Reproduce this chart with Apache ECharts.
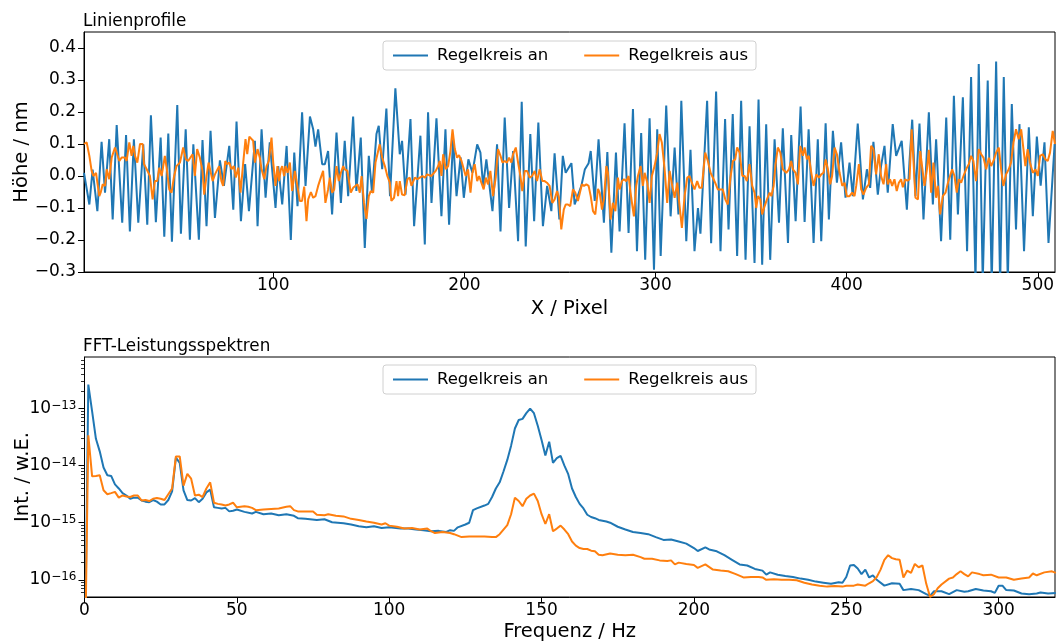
<!DOCTYPE html>
<html><head><meta charset="utf-8">
<script src="https://cdn.jsdelivr.net/npm/echarts@6/dist/echarts.min.js"></script>
<style>html,body{margin:0;padding:0;background:#fff}#c{width:1056px;height:642px}</style>
</head><body><div id="c"></div>
<script>
// ---- Linienprofile ----
const profileOnX = [1,3.8,5.5,8,10.2,12,14.2,16,18.1,21,23,25,27.1,29.4,32,34.1,36,38.6,41.1,43,45.1,47,49.8,51.7,54.2,56.4,58.2,61.1,63,65.1,67.2,69.5,72.1,74.2,77,79.1,80.8,83.1,85.3,87.3,90.4,91.8,93.9,96,98.2,101.2,102.6,104.7,107,109.2,111,112.7,115.1,116.9,119.2,120.9,122.1,123.5,125.6,127,128.7,130.8,133.1,135.4,137.4,139.2,141.8,143.5,145.8,147.9,150,151.7,154,155.2,157,159.2,161.1,163.9,166.2,167.4,169.2,171.8,173.7,177,179.3,181,182.8,185.4,188,190.1,192,194.1,195.9,198,199.7,202.1,204.2,206.7,208.4,209.8,211.5,214.7,217.1,218.9,221.1,223.4,225.5,228.1,230,232.1,234.5,236.5,238.7,241.1,243.3,245.5,247.2,249.7,251.5,253,256,257.7,261.2,263,265,266.1,268.2,270.2,273,274.8,276.9,279.3,281.2,283.8,285.9,288.2,290.3,292.5,294.6,296.9,299.2,300.9,302.7,305.6,307.9,310,312,313.5,316.1,318.3,320.4,322.2,323.5,327,329.1,331.7,334,336.4,338.2,340.4,342.7,344.8,347.1,349.2,351.8,353.9,355.8,357.9,360,362.3,364.6,366.6,369.3,371,373.3,375.9,378,380.1,382.7,384.9,386.7,389,390.7,392.8,394.9,397.1,399.4,401.5,403.2,405.8,408.5,410.6,412.3,414,416.3,418,419.8,421.5,424.1,425.9,428.8,431.5,432.9,434.3,436,438.1,440.2,443,445.1,446.8,449.4,452.1,454.2,456.1,458.2,460.8,463,465.1,467.4,469.1,471.2,473.8,475.9,478.2,480.3,482.2,484.3,486.4,488.6,490.4,492.8,495.3,497.4,499.5,501.5,503.5,505.6,508.8];
const profileOnY = [0.01,-0.089,0.02,-0.11,0.107,-0.052,0.115,-0.136,0.159,-0.146,0.128,-0.173,0.115,-0.146,0.099,-0.152,0.19,-0.144,0.12,-0.19,0.133,-0.205,0.222,-0.18,0.146,-0.199,0.099,-0.199,0.112,-0.157,0.141,-0.131,0.049,-0.031,0.094,-0.105,0.17,-0.141,0.037,-0.11,0.11,-0.157,0.146,-0.068,0.105,-0.1,0.031,-0.089,0.094,-0.2,0.073,-0.094,0.199,-0.031,0.186,0.146,0.092,0.146,0.037,0.037,0.078,-0.12,0.136,-0.084,0.11,-0.063,0.186,-0.047,0.12,-0.225,0.063,-0.052,0.131,0.157,0.021,0.211,-0.063,0.274,0.068,0.11,-0.058,0.178,-0.157,0.126,-0.214,0.199,-0.084,0.18,-0.126,0.146,-0.152,0.115,-0.063,0.058,-0.068,0.052,0.01,0.099,0.073,-0.031,0.052,-0.11,0.099,-0.173,0.183,-0.1,0.078,-0.204,0.232,-0.22,0.131,-0.141,0.167,-0.157,-0.031,-0.11,0.071,-0.136,0.063,0.01,0.04,-0.089,-0.031,0.02,0.04,0.078,-0.078,0.115,-0.146,0.075,-0.24,0.073,-0.173,0.165,-0.178,0.209,-0.235,0.134,-0.262,0.18,-0.293,0.146,-0.25,0.22,-0.126,0.089,-0.12,0.235,-0.204,0.082,-0.235,-0.1,-0.18,0.235,-0.21,0.264,-0.235,0.178,-0.167,0.194,-0.25,0.235,-0.262,0.155,-0.272,0.239,-0.277,0.162,-0.262,0.115,-0.146,0.149,-0.209,0.128,-0.141,0.217,-0.144,0.146,-0.209,0.115,-0.204,0.165,-0.136,0.141,-0.021,0.105,-0.068,0.042,-0.063,0.164,-0.073,0.021,-0.037,0.107,-0.058,0.031,0.094,-0.052,0.162,0.063,0.11,-0.105,0.047,0.176,-0.063,0.164,-0.136,0.199,-0.089,0.115,-0.204,0.183,-0.199,0.251,-0.12,0.246,-0.235,0.309,-0.33,0.35,-0.33,0.298,-0.34,0.358,-0.34,0.309,-0.33,0.225,-0.167,0.162,-0.235,0.152,-0.126,0.123,-0.03,0.105,-0.209,0.10];

const profileOffX = [1,2.4,3.8,5,5.9,7.3,8,9,9.7,10.8,12,12.9,14.2,15.5,17.2,18.1,19.5,20.7,22.4,23.3,24.7,25.9,26.8,27.7,28.9,30.3,31.7,32.4,33.8,35.5,36.9,38.1,39.3,40.4,41.6,43.3,44.6,45.6,46.8,48,49.4,51.2,52.9,54.3,55.5,56.4,57.8,59,60.2,61.6,63,63.9,65.1,66.2,67.2,68.3,69.5,70.3,71.7,72.9,73.8,74.9,75.9,77,78.2,79.4,80.4,81.7,82.9,84.3,85.5,86.4,87.5,88.4,89.5,90.4,91.8,93,93.9,95.3,96.5,97.7,99.1,100,101.2,102.2,103,104,104.7,105.7,106.4,107.5,108.7,109.9,111.3,112.5,113.9,115.1,116.2,117.4,118.3,119.7,120.9,122.1,123.5,124.9,126.1,127.3,128.7,129.6,130.8,131.9,133.1,134.3,135.4,136.6,137.4,138.8,140.6,141.8,142.7,144.1,145.3,146.2,147.5,148.8,150,151,152.3,153.5,154.5,155.7,157,158.4,159.7,161,161.8,163.2,164.5,165.3,166.2,167.4,168.8,170.2,171.4,172.3,173.2,174.1,175.4,176.7,178.1,179.3,180.5,181.5,182.7,183.7,185,186.3,187.1,188,188.9,190.3,191.5,192.7,193.8,195,196.2,197.2,198.5,199.3,200.7,201.9,203.2,204.2,205.4,206.7,207.7,208.9,210.1,211.2,212.4,213.6,215,216.4,217.6,218.9,219.9,221.1,222.3,223.4,224.6,225.5,226.9,228.1,229.3,230.3,231.6,232.8,234.2,235.4,236.8,238,239.4,240.8,242,243.2,244.6,246,247.2,248.5,249.5,250.7,252,253,254.2,255.4,256.8,258,259.4,260.3,261.5,262.6,263.8,265,266.1,267.3,268.5,269.9,270.8,272,273,274.3,275.1,276.5,277.7,279,280.3,281.2,282.4,283.5,284.7,285.9,287.3,288.7,289.9,290.8,292.2,293.4,294.3,295.7,296.9,298.1,299.5,300.9,302.1,303.3,304.7,306.1,307.4,308.6,310,311.4,312.6,313.8,315.2,316.6,317.8,319,320.4,321.8,323,324.2,326,327.4,328.8,330,331.2,332.6,334,335.2,336.5,337.8,339.2,340.5,341.7,342.7,344,345.4,346.6,347.8,349.2,350.6,351.8,352.7,353.6,354.8,355.8,357.1,358.3,359.7,360.6,361.8,362.8,364,365.3,366.6,368.4,369.8,371,371.9,373.3,374.5,375.7,377.1,378,379.2,380.2,381.5,382.7,384.1,385.5,386.7,387.9,389,390.2,391.4,392.4,393.7,394.9,396.3,397.7,398.9,400.1,401.5,402.9,404.1,405,406.4,407.6,408.8,410.2,411.6,412.8,414,415.4,416.8,418,419.3,420.7,421.5,422.7,423.8,425,426.2,427.3,428.5,429.4,430.6,431.8,432.9,434,435,436,437.3,438.5,439.5,440.7,442,443,444.2,445.4,446.8,447.7,448.9,450.3,451.7,453,453.8,455.2,456.4,457.6,458.7,459.9,461.1,462.5,463.9,465.1,466.3,467.7,469.1,470.4,471.6,473,474.4,475.6,476.8,478.2,479.6,480.8,482,483.4,484.8,486,487.3,488.6,490,491.3,492.5,493.5,494.7,495.9,497.4,498.8,500,501.2,502.6,504,505.2,506.4,507.8,509];
const profileOffY = [0.1,0.105,0.063,0.016,0,0.01,-0.021,-0.063,-0.052,-0.026,-0.031,0.021,-0.01,0.058,0.089,0.084,0.047,0.058,0.058,0.047,0.105,0.063,0.094,0.063,0.042,0.1,0.1,0.037,0.021,0,-0.073,-0.016,-0.016,0.026,0,0.063,0.01,-0.042,-0.052,-0.005,0.031,0.042,0.089,0.052,0.047,0.042,0.068,0,0.084,0.058,0.016,-0.058,0,0.042,0.042,-0.016,0.005,0.01,0.031,-0.016,-0.031,0.047,0.037,0.042,0.021,0.031,-0.005,0.026,-0.052,0.042,0.115,0.068,0.123,0.126,0.11,0.042,0.084,0.057,0.021,-0.01,0.031,0.047,0.12,0.042,-0.031,0.031,-0.016,0.021,0.031,0,0.031,0.01,0.042,-0.047,0.016,-0.026,-0.078,-0.078,-0.033,-0.141,-0.073,-0.05,-0.068,-0.063,-0.031,-0.005,0.016,-0.084,-0.042,-0.005,-0.052,-0.042,0.031,-0.016,0.01,0.031,0.021,0.016,-0.052,-0.037,-0.042,-0.026,-0.052,0,-0.084,-0.134,-0.063,-0.047,-0.052,0.042,0.068,0.099,0.057,0.031,0,-0.021,-0.078,-0.068,-0.016,-0.063,-0.016,-0.058,-0.06,-0.01,-0.005,-0.031,-0.031,-0.005,-0.01,-0.005,0,-0.005,0.005,0,0,0.005,0.016,0.031,0.047,0,0.068,0.021,0.031,0.078,0.146,0.084,0.057,0.065,0.047,0.052,0,0.021,-0.052,0.01,0.037,-0.016,0,-0.021,-0.042,-0.005,-0.026,0.016,-0.063,-0.005,0.084,0.063,0.042,0.047,0.042,0.057,0.042,0.068,0.089,0.042,0,-0.047,0.016,0.016,-0.005,0,0.016,-0.016,0.021,-0.016,-0.016,-0.021,-0.031,-0.084,-0.073,-0.047,-0.068,-0.167,-0.105,-0.089,-0.089,-0.094,-0.042,-0.052,-0.078,-0.084,-0.026,-0.031,-0.026,-0.031,-0.063,-0.11,-0.12,-0.04,-0.052,-0.105,-0.073,0.031,0.01,-0.136,-0.084,-0.11,-0.005,-0.042,-0.016,-0.01,-0.016,0,-0.068,-0.126,-0.031,0,0.031,-0.031,0.01,-0.021,-0.084,0,0.031,0.073,0.131,0.105,0.026,-0.084,0.016,-0.026,-0.068,-0.021,-0.094,-0.162,-0.063,-0.005,0,-0.021,-0.042,-0.016,-0.037,-0.037,0.073,0.047,0.01,-0.005,-0.021,-0.042,-0.042,-0.042,-0.073,-0.089,-0.005,0.047,0.052,0.089,0.073,0,0,-0.016,0.037,-0.031,-0.052,-0.1,-0.063,-0.073,-0.12,-0.094,-0.073,-0.052,-0.063,-0.031,0.037,0.089,0.073,0.021,0.01,0.021,0.047,0.021,0.01,-0.026,0.094,0.063,0.089,0.052,0.063,0.01,-0.031,0.005,-0.005,0.005,0.01,0.052,0.021,-0.026,0,0.089,0.068,0.01,-0.031,-0.021,-0.063,-0.063,-0.052,-0.063,-0.031,0.037,-0.042,-0.058,-0.037,-0.026,0.094,0.084,0.005,0.068,0,-0.026,0.037,-0.026,-0.01,-0.031,-0.01,-0.047,-0.021,-0.01,-0.035,-0.01,-0.015,-0.01,0.146,0.042,-0.068,-0.073,0.078,0.078,-0.031,0.021,0.082,-0.052,0.042,-0.068,-0.031,-0.12,-0.063,-0.052,-0.021,-0.023,0.021,0,-0.052,-0.01,-0.021,0,0.021,0.037,0.063,0.047,-0.016,0.084,0.068,0.057,0.021,0.057,0.031,0.047,0.073,0.089,0.021,-0.031,0.005,0.021,0.042,0.105,0.146,0.115,0.146,0.084,0.031,0.084,0.042,0.01,0.021,0,0.063,0.068,0.052,0.047,0.073,0.141,0.1];
const profileTicksX = [100, 200, 300, 400, 500];
const profileTicksY = [-0.3, -0.2, -0.1, 0, 0.1, 0.2, 0.3, 0.4];

// ---- FFT-Leistungsspektren ----
const freqOn = [0,1.25,2.5,3.75,5,6.25,7.5,8.75,10,11.25,12.5,13.75,15,16.25,17.5,18.75,20,21.25,22.5,23.75,25,26.25,27.5,28.75,30,31.25,32.5,33.75,35,36.25,37.5,38.75,40,41.25,42.5,43.75,45,46.25,47.5,48.75,50,52.5,55,56.25,58.75,61.25,63.75,66.25,68.75,70,72.5,76.25,78.75,81.25,85,87.5,90,92.5,95,97.5,100,103.75,106.25,108.75,111.25,113.75,116.25,118.75,120,121.25,122.5,125,126.25,127.5,128.75,131.25,132.5,133.75,135,136.25,137.5,138.75,140,141.25,142.5,143.75,145,146.25,147.5,148.75,150,151.25,152.5,153.75,155,156.25,157.5,158.75,160,161.25,162.5,163.75,165,166.25,167.5,168.75,171.25,172.5,175,177.5,180,182.5,185,187.5,190,192.5,195,197.5,200,201.25,203.75,205,207.5,210,212.5,215,217.5,220,222.5,223.75,225,227.5,230,232.5,235,237.5,240,242.5,245,247.5,248.75,250,251.25,252.5,253.75,255,256.25,257.5,258.75,260,262.5,265,267.5,268.75,271.25,273.75,276.25,277.5,278.75,281.25,283.75,286.25,288.75,290,292.5,295,297.5,298.75,300,301.25,302.5,305,307.5,310,312.5,313.75,316.25,318.75];
const powerOn = [1e-18,2.63e-13,8.9e-14,2.95e-14,1.78e-14,9.3e-15,6.8e-15,6.6e-15,4.7e-15,3.98e-15,3.3e-15,3.0e-15,2.63e-15,2.75e-15,2.75e-15,2.45e-15,2.34e-15,2.29e-15,2.5e-15,2.34e-15,2.09e-15,2.09e-15,2.5e-15,3.55e-15,1.38e-14,1.12e-14,3.7e-15,2.5e-15,2.45e-15,2.7e-15,2.29e-15,2.63e-15,3.4e-15,3.8e-15,1.86e-15,1.82e-15,1.78e-15,1.82e-15,1.58e-15,1.62e-15,1.7e-15,1.55e-15,1.45e-15,1.55e-15,1.41e-15,1.45e-15,1.35e-15,1.41e-15,1.32e-15,1.2e-15,1.17e-15,1.12e-15,1.15e-15,1.02e-15,9.8e-16,9.3e-16,8.7e-16,8.3e-16,8.7e-16,8.1e-16,8.3e-16,7.9e-16,7.9e-16,7.6e-16,7.4e-16,7.1e-16,7.2e-16,6.9e-16,7.4e-16,7.2e-16,8.3e-16,9.3e-16,1.0e-15,1.66e-15,1.78e-15,2.0e-15,2.14e-15,2.82e-15,3.98e-15,5.1e-15,7.9e-15,1.26e-14,2.24e-14,4.47e-14,6.3e-14,6.6e-14,8.3e-14,1.0e-13,8.3e-14,5.0e-14,2.82e-14,1.51e-14,2.63e-14,1.12e-14,1.35e-14,1.48e-14,1.0e-14,7.1e-15,3.98e-15,2.82e-15,2.14e-15,1.78e-15,1.38e-15,1.26e-15,1.2e-15,1.12e-15,1.05e-15,1.0e-15,8.5e-16,7.6e-16,6.9e-16,6.6e-16,6.3e-16,5.6e-16,5.0e-16,5.1e-16,4.7e-16,4.3e-16,3.6e-16,3.2e-16,3.7e-16,3.4e-16,3.16e-16,2.7e-16,2.24e-16,1.86e-16,1.78e-16,1.55e-16,1.45e-16,1.23e-16,1.35e-16,1.23e-16,1.17e-16,1.12e-16,1.05e-16,1.0e-16,9.3e-17,8.9e-17,8.5e-17,9.1e-17,8.9e-17,1.12e-16,1.78e-16,1.82e-16,1.58e-16,1.26e-16,1.51e-16,1.1e-16,1.2e-16,1.0e-16,7.9e-17,8.7e-17,8.5e-17,6.6e-17,6.9e-17,6.6e-17,5.6e-17,5.25e-17,6.3e-17,6.3e-17,5.6e-17,6.6e-17,6.2e-17,6.3e-17,6.9e-17,6.5e-17,6.3e-17,5.9e-17,7.9e-17,7.9e-17,6.6e-17,6.5e-17,5.75e-17,5.6e-17,5.75e-17,6.0e-17,5.75e-17,5.9e-17];
const freqOff = [0,1.25,2.5,3.75,5,6.25,7.5,8.75,10,11.25,12.5,13.75,15,16.25,17.5,18.75,20,21.25,22.5,23.75,25,26.25,27.5,28.75,30,31.25,32.5,33.75,35,36.25,37.5,38.75,40,41.25,42.5,43.75,45,46.25,47.5,48.75,50,52.5,53.75,55,56.25,58.75,61.25,63.75,66.25,67.5,68.75,70,72.5,75,76.25,78.75,80,82.5,85,87.5,90,92.5,95,97.5,98.75,100,102.5,105,107.5,110,112.5,113.75,115,117.5,120,121.25,123.75,126.25,128.75,131.25,133.75,135,136.25,137.5,138.75,140,141.25,142.5,143.75,145,146.25,147.5,148.75,150,151.25,152.5,153.75,155,156.25,157.5,158.75,160,161.25,162.5,163.75,165,166.25,167.5,168.75,170,172.5,175,177.5,180,182.5,183.75,186.25,188.75,191.25,192.5,193.75,195,197.5,200,201.25,203.75,206.25,208.75,211.25,213.75,216.25,218.75,221.25,222.5,223.75,226.25,228.75,231.25,233.75,236.25,238.75,241.25,243.75,246.25,248.75,250,252.5,253.75,256.25,257.5,258.75,260,261.25,262.5,263.75,265,266.25,267.5,268.75,270,271.25,272.5,273.75,275,276.25,277.5,278.75,280,281.25,283.75,285,286.25,287.5,288.75,290,291.25,293.75,295,297.5,300,302.5,305,307.5,310,311.25,312.5,315,317.5,318.75];
const powerOff = [1e-18,3.4e-14,6.5e-15,6.6e-15,6.8e-15,3.7e-15,3.16e-15,3.3e-15,3.47e-15,2.75e-15,3.0e-15,2.88e-15,2.82e-15,3.0e-15,3.0e-15,2.45e-15,2.5e-15,2.4e-15,2.63e-15,2.7e-15,2.63e-15,2.5e-15,3.16e-15,3.98e-15,1.45e-14,1.45e-14,4.47e-15,7.2e-15,5.9e-15,3.0e-15,3.1e-15,2.82e-15,3.98e-15,5.1e-15,2.24e-15,2.14e-15,2.09e-15,2.0e-15,2.09e-15,2.24e-15,1.86e-15,1.95e-15,1.9e-15,1.82e-15,1.66e-15,1.7e-15,1.74e-15,1.78e-15,1.9e-15,1.95e-15,1.66e-15,1.58e-15,1.58e-15,1.58e-15,1.38e-15,1.35e-15,1.41e-15,1.32e-15,1.29e-15,1.17e-15,1.12e-15,1.05e-15,1.0e-15,9.3e-16,9.8e-16,8.9e-16,8.5e-16,7.9e-16,8.1e-16,7.6e-16,7.9e-16,7.1e-16,6.6e-16,6.9e-16,6.6e-16,6.3e-16,5.6e-16,5.75e-16,5.75e-16,5.75e-16,5.6e-16,5.6e-16,6.3e-16,7.6e-16,9.1e-16,1.41e-15,2.75e-15,2.4e-15,1.95e-15,2.63e-15,3.0e-15,3.24e-15,2.4e-15,1.41e-15,9.5e-16,1.41e-15,7.1e-16,7.9e-16,8.9e-16,7.6e-16,6.3e-16,4.7e-16,3.98e-16,3.6e-16,3.47e-16,3.47e-16,3.24e-16,3.16e-16,2.75e-16,2.7e-16,2.88e-16,2.75e-16,2.7e-16,2.75e-16,2.5e-16,2.34e-16,2.34e-16,2.19e-16,2.14e-16,2.19e-16,1.86e-16,2.0e-16,1.9e-16,1.82e-16,1.62e-16,1.86e-16,1.51e-16,1.45e-16,1.41e-16,1.26e-16,1.1e-16,1.12e-16,1.12e-16,1.1e-16,1.0e-16,1.02e-16,1.0e-16,1.0e-16,9.8e-17,8.9e-17,8.3e-17,7.9e-17,7.6e-17,7.8e-17,7.6e-17,7.9e-17,7.9e-17,8.3e-17,7.9e-17,8.7e-17,9.5e-17,1.12e-16,1.51e-16,2.24e-16,2.7e-16,2.4e-16,2.29e-16,2.24e-16,1.1e-16,1.45e-16,1.32e-16,1.9e-16,1.66e-16,1.78e-16,8.5e-17,5.0e-17,5.6e-17,7.1e-17,8.3e-17,1.05e-16,1.1e-16,1.26e-16,1.41e-16,1.26e-16,1.15e-16,1.35e-16,1.26e-16,1.2e-16,1.23e-16,1.1e-16,1.1e-16,1.0e-16,1.05e-16,1.1e-16,1.29e-16,1.2e-16,1.35e-16,1.41e-16,1.32e-16];
const freqTicks = [0, 50, 100, 150, 200, 250, 300];
const powerTicks = [1e-16, 1e-15, 1e-14, 1e-13];
const powerMinorTicks = [6e-17,7e-17,8e-17,9e-17,2e-16,3e-16,4e-16,5e-16,6e-16,7e-16,8e-16,9e-16,2e-15,3e-15,4e-15,5e-15,6e-15,7e-15,8e-15,9e-15,2e-14,3e-14,4e-14,5e-14,6e-14,7e-14,8e-14,9e-14,2e-13,3e-13,4e-13,5e-13,6e-13,7e-13];

const seriesNames = ['Regelkreis an', 'Regelkreis aus'];
const colors = ['#1f77b4', '#ff7f0e'];

const FONT = 'DejaVu Sans';
const zip = (xs, ys) => xs.map((x, i) => [x, ys[i]]);
const fmtLin = v => (Math.abs(v) < 1e-9 ? '0.0' : v.toFixed(1)).replace('-', '\u2212');
const fmtLog = v => {
  const e = Math.round(Math.log10(v));
  return '{b|10}{s|' + (e < 0 ? '\u2212' : '') + Math.abs(e) + '}';
};

const txt = {fontFamily: FONT, color: '#000'};
const axisLine = {show: true, onZero: false, lineStyle: {color: '#000', width: 1}};
const axisTick = (vals) => ({show: true, length: 6, lineStyle: {color: '#000', width: 1}, customValues: vals});

const legendCommon = {
  orient: 'horizontal', left: 383, itemWidth: 35, itemHeight: 2, itemGap: 36, icon: 'rect',
  padding: [5, 8, 5, 10], borderColor: '#d0d0d0', borderWidth: 1, borderRadius: 3,
  backgroundColor: 'rgba(255,255,255,0.8)',
  textStyle: {fontFamily: FONT, fontSize: 16.5, color: '#000', lineHeight: 19, padding: [0, 0, 0, 4]},
  data: seriesNames
};

const option = {
  animation: false,
  backgroundColor: '#ffffff',
  textStyle: {fontFamily: FONT},
  title: [
    {text: 'Linienprofile', left: 83, top: 13, padding: 0, textStyle: Object.assign({fontSize: 16.8, fontWeight: 'normal'}, txt)},
    {text: 'FFT-Leistungsspektren', left: 83, top: 338, padding: 0, textStyle: Object.assign({fontSize: 16.8, fontWeight: 'normal'}, txt)}
  ],
  legend: [
    Object.assign({top: 41}, legendCommon),
    Object.assign({top: 365}, legendCommon)
  ],
  grid: [
    {left: 84, top: 32, width: 971, height: 240, show: true, borderColor: '#000', borderWidth: 1, backgroundColor: 'transparent', containLabel: false, outerBoundsMode: 'none'},
    {left: 84.5, top: 357, width: 970.5, height: 240, show: true, borderColor: '#000', borderWidth: 1, backgroundColor: 'transparent', containLabel: false, outerBoundsMode: 'none'}
  ],
  xAxis: [
    {gridIndex: 0, type: 'value', min: 1, max: 509, axisLine, axisTick: axisTick(profileTicksX),
     axisLabel: Object.assign({customValues: profileTicksX, margin: 5, fontSize: 17}, txt),
     splitLine: {show: false}, name: 'X / Pixel', nameLocation: 'middle', nameGap: 27,
     nameTextStyle: Object.assign({fontSize: 19.5}, txt)},
    {gridIndex: 1, type: 'value', min: 0, max: 318.5, axisLine, axisTick: axisTick(freqTicks),
     axisLabel: Object.assign({customValues: freqTicks, margin: 5, fontSize: 17}, txt),
     splitLine: {show: false}, name: 'Frequenz / Hz', nameLocation: 'middle', nameGap: 25,
     nameTextStyle: Object.assign({fontSize: 19.5}, txt)}
  ],
  yAxis: [
    {gridIndex: 0, type: 'value', min: -0.3, max: 0.45, position: 'left', axisLine, axisTick: axisTick(profileTicksY),
     axisLabel: Object.assign({customValues: profileTicksY, margin: 8, fontSize: 17, formatter: fmtLin}, txt),
     splitLine: {show: false}, name: 'H\u00f6he / nm', nameLocation: 'middle', nameGap: 52, nameRotate: 90,
     nameMoveOverlap: false,
     nameTextStyle: Object.assign({fontSize: 19.5}, txt)},
    {gridIndex: 1, type: 'log', logBase: 10, min: 5e-17, max: 8e-13, position: 'left', axisLine, axisTick: axisTick(powerTicks),
     axisLabel: Object.assign({customValues: powerTicks, margin: 8, formatter: fmtLog,
       rich: {b: {fontFamily: FONT, fontSize: 17, lineHeight: 17, color: '#000'},
              s: {fontFamily: FONT, fontSize: 12, lineHeight: 12, verticalAlign: 'top', color: '#000'}}}, txt),
     splitLine: {show: false}, name: 'Int. / w.E.', nameLocation: 'middle', nameGap: 52, nameRotate: 90,
     nameMoveOverlap: false,
     nameTextStyle: Object.assign({fontSize: 19.5}, txt)},
    {gridIndex: 1, type: 'log', logBase: 10, min: 5e-17, max: 8e-13, position: 'left', offset: 0,
     axisLine: {show: false}, axisLabel: {show: false}, splitLine: {show: false},
     axisTick: {show: true, length: 3.5, lineStyle: {color: '#000', width: 0.8}, customValues: powerMinorTicks}}
  ],
  series: [
    {name: seriesNames[0], type: 'line', xAxisIndex: 0, yAxisIndex: 0, data: zip(profileOnX, profileOnY),
     symbol: 'none', showSymbol: false, clip: true, lineStyle: {color: colors[0], width: 2}, itemStyle: {color: colors[0]}},
    {name: seriesNames[1], type: 'line', xAxisIndex: 0, yAxisIndex: 0, data: zip(profileOffX, profileOffY),
     symbol: 'none', showSymbol: false, clip: true, lineStyle: {color: colors[1], width: 2}, itemStyle: {color: colors[1]}},
    {name: seriesNames[0], type: 'line', xAxisIndex: 1, yAxisIndex: 1, data: zip(freqOn, powerOn),
     symbol: 'none', showSymbol: false, clip: true, lineStyle: {color: colors[0], width: 2}, itemStyle: {color: colors[0]}},
    {name: seriesNames[1], type: 'line', xAxisIndex: 1, yAxisIndex: 1, data: zip(freqOff, powerOff),
     symbol: 'none', showSymbol: false, clip: true, lineStyle: {color: colors[1], width: 2}, itemStyle: {color: colors[1]}}
  ]
};

const chart = echarts.init(document.getElementById('c'), null, {renderer: 'canvas'});
chart.setOption(option);
</script>
</body></html>
